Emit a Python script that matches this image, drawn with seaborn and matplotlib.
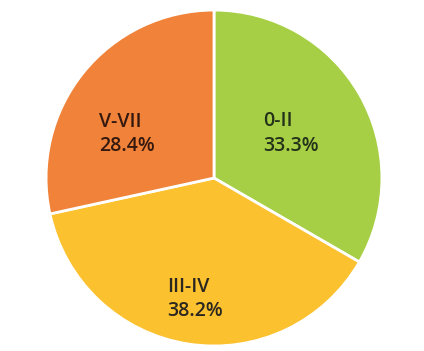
import numpy as np
import seaborn as sns
import matplotlib.pyplot as plt

# Data
groups = ['0-II', 'III-IV', 'V-VII']
shares = [33.3, 38.2, 28.4]
colors = ['#a6cf45', '#fbc12e', '#f08239']
text_colors = ['#24321a', '#2b2720', '#35190f']
label_dist = [0.53, 0.73, 0.58]
label_turn = [0, 0, 12]  # degrees, nudges V-VII label like the original

sns.set_theme(style='white')
plt.rcParams['font.family'] = ['Open Sans', 'DejaVu Sans']

fig = plt.figure(figsize=(4.24, 3.51), dpi=100)
ax = fig.add_axes([0.1087, 0.0143, 0.792, 0.957])

wedges, _ = ax.pie(shares, colors=colors, startangle=90, counterclock=False,
                   wedgeprops=dict(edgecolor='white', linewidth=2))

# put group name and share inside each wedge
for w, g, s, tc, d, t in zip(wedges, groups, shares, text_colors, label_dist, label_turn):
    mid = np.deg2rad((w.theta1 + w.theta2) / 2 + t)
    ax.text(d * np.cos(mid), d * np.sin(mid), f'{g}\n{s:.1f}%',
            ha='center', va='center', multialignment='left',
            fontsize=14, fontweight='semibold', color=tc, linespacing=1.3)

ax.set_xlim(-1, 1)
ax.set_ylim(-1, 1)
ax.set_aspect('auto')
ax.axis('off')

fig.savefig('out.png', dpi=100, facecolor='white')
